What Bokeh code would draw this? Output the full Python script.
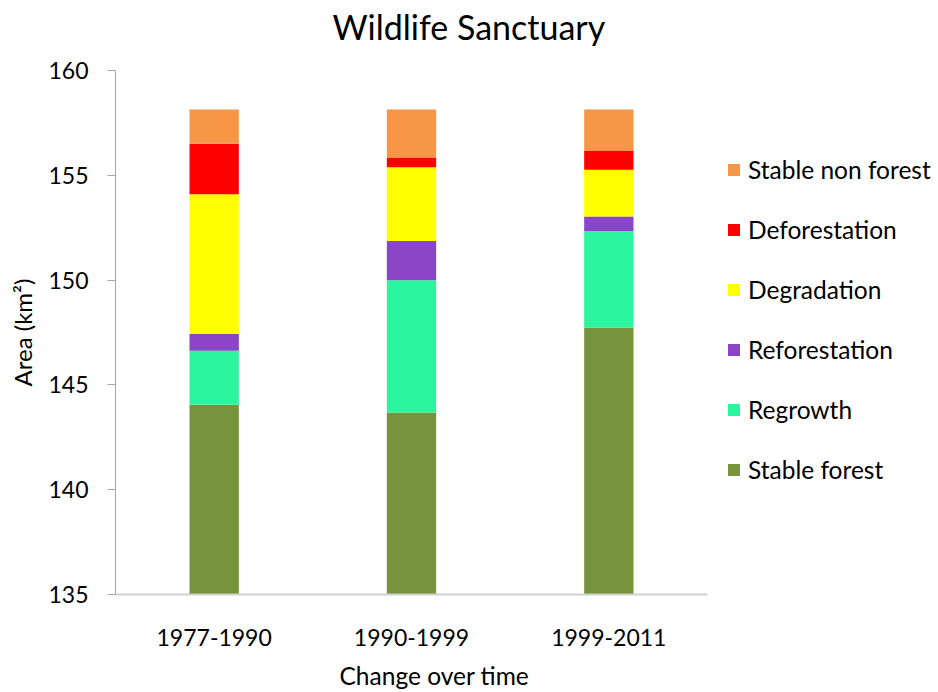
from bokeh.plotting import figure
from bokeh.models import (ColumnDataSource, Range1d, Legend, LegendItem,
                          Title, FixedTicker)
from bokeh.embed import file_html
from bokeh.resources import INLINE

# Land-cover change classes, stacked bottom to top (areas in km²)
periods = ["1977-1990", "1990-1999", "1999-2011"]
classes = ["Stable forest", "Regrowth", "Reforestation",
           "Degradation", "Deforestation", "Stable non forest"]

stable_forest = [144.05, 143.68, 147.74]
regrowth = [2.58, 6.31, 4.60]
reforestation = [0.81, 1.88, 0.69]
degradation = [6.65, 3.51, 2.23]
deforestation = [2.41, 0.47, 0.92]
stable_non_forest = [1.64, 2.29, 1.96]

colors = ["#77933C", "#2CF59F", "#8A46C6", "#FFFF00", "#FF0000", "#F79646"]

y_ticks = [135, 140, 145, 150, 155, 160]

FONT = "Lato"

# Layout: the category axis spans AXIS_W px of a frame FRAME_W px wide,
# the remaining room on the right holds the legend.
W, H = 938, 692
LEFT, TOP, BOTTOM = 115, 70, 98
FRAME_W = W - LEFT
AXIS_W = 592

n = len(periods)
xs = list(range(n))
x_end = -0.5 + n * FRAME_W / AXIS_W

source = ColumnDataSource(data={
    "x": xs,
    "Stable forest": stable_forest,
    "Regrowth": regrowth,
    "Reforestation": reforestation,
    "Degradation": degradation,
    "Deforestation": deforestation,
    "Stable non forest": stable_non_forest,
})

p = figure(width=W, height=H, output_backend="svg", toolbar_location=None,
           x_range=Range1d(-0.5, x_end), y_range=Range1d(135, 160),
           min_border_left=LEFT, min_border_right=0,
           min_border_top=TOP, min_border_bottom=BOTTOM)
p.title = None

renderers = p.vbar_stack(classes, x="x", width=0.25, source=source,
                         color=colors, line_color=None)

# Chart title: a thin spacer title sits next to the frame, the real one above it
spacer = Title(text=" ", text_font_size="2px", standoff=20)
p.add_layout(spacer, "above")
title = Title(text="Wildlife Sanctuary", align="left", offset=217,
              text_font=FONT, text_font_size="34px", text_font_style="normal",
              text_color="black", standoff=0)
p.add_layout(title, "above")

# Legend listed top-down in stack order
items = [LegendItem(label=c, renderers=[r]) for c, r in zip(classes, renderers)][::-1]
legend = Legend(items=items, location=(611, 110), padding=0, margin=0,
                border_line_color=None, background_fill_alpha=0,
                glyph_width=15, glyph_height=15, label_height=30, spacing=30,
                label_standoff=7, label_text_font=FONT, label_text_font_size="24.5px",
                label_text_color="black")
p.add_layout(legend, "center")

p.grid.grid_line_color = None
p.outline_line_color = None
p.background_fill_color = "white"

# Y axis
p.yaxis.ticker = FixedTicker(ticks=y_ticks)
p.yaxis.axis_label = "Area (km²)"
p.yaxis.axis_label_text_font = FONT
p.yaxis.axis_label_text_font_size = "24px"
p.yaxis.axis_label_text_font_style = "normal"
p.yaxis.axis_label_text_color = "black"
p.yaxis.axis_label_standoff = 8
p.yaxis.major_label_text_font = FONT
p.yaxis.major_label_text_font_size = "23px"
p.yaxis.major_label_text_color = "black"
p.yaxis.major_label_standoff = 19
p.yaxis.axis_line_color = "#A6A6A6"
p.yaxis.major_tick_line_color = "#A6A6A6"
p.yaxis.major_tick_out = 8
p.yaxis.major_tick_in = 0
p.yaxis.minor_tick_line_color = None

# X axis: category labels, line limited to the category span
xaxis = p.xaxis[0]
xaxis.bounds = (-0.5, n - 0.5)
xaxis.ticker = FixedTicker(ticks=xs)
xaxis.major_label_overrides = {i: lab for i, lab in zip(xs, periods)}
xaxis.major_label_text_font = FONT
xaxis.major_label_text_font_size = "23px"
xaxis.major_label_text_color = "black"
xaxis.major_label_standoff = 28
xaxis.axis_line_color = "#D0D0D0"
xaxis.axis_line_width = 2
xaxis.major_tick_line_color = None
xaxis.minor_tick_line_color = None
# blank axis label keeps a gap between the category labels and the x title
xaxis.axis_label = " "
xaxis.axis_label_text_font_size = "1px"
xaxis.axis_label_standoff = 6

# X axis title, placed under the category labels
x_title = Title(text="Change over time", align="left", offset=224,
                text_font=FONT, text_font_size="24.5px", text_font_style="normal",
                text_color="black", standoff=0)
p.add_layout(x_title, "below")

open("out.html", "w").write(file_html(p, INLINE))
